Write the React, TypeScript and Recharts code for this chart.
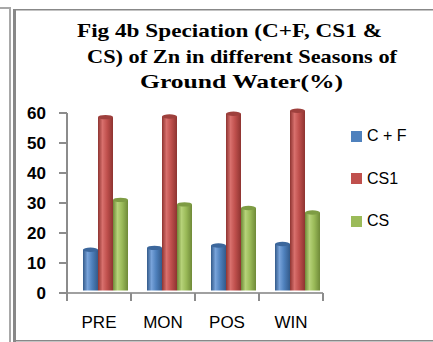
import React from 'react';
import { BarChart, Bar, XAxis, YAxis, Legend } from 'recharts';

// Zn speciation (%) per season
const seasons = ['PRE', 'MON', 'POS', 'WIN'];
const cfValues = [13.6, 14.2, 15.0, 15.5];
const cs1Values = [57.8, 58.0, 58.9, 59.9];
const csValues = [30.2, 28.7, 27.5, 26.0];
const yTicks = [0, 10, 20, 30, 40, 50, 60];
const titleLines = [
  'Fig 4b Speciation (C+F,  CS1 &',
  'CS) of Zn in different Seasons of',
  'Ground Water(%)',
];

const series = [
  { key: 'cf', name: 'C + F', color: '#4F81BD', light: '#78A3DA', dark: '#335A8A', cap: '#3C679C' },
  { key: 'cs1', name: 'CS1', color: '#C0504D', light: '#D8706D', dark: '#8E3431', cap: '#9E403D' },
  { key: 'cs', name: 'CS', color: '#9BBB59', light: '#B6D279', dark: '#6F8A38', cap: '#7E9C44' },
];

const data = seasons.map((season, i) => ({
  season,
  cf: cfValues[i],
  cs1: cs1Values[i],
  cs: csValues[i],
}));

// bars sit a little back and to the right, like a 3-D column chart
const DEPTH_DX = 6;
const DEPTH_DY = -2.5;

const Cylinder = (props: any) => {
  const { x, y, width, height, sKey } = props;
  const s = series.find((d) => d.key === sKey)!;
  if (!width || height == null) return null;
  const left = x + DEPTH_DX;
  const top = y + DEPTH_DY;
  const rx = width / 2;
  const ry = 2.2;
  return (
    <g>
      <rect x={left} y={top} width={width} height={height} fill={`url(#grad-${s.key})`} />
      <ellipse cx={left + rx} cy={top} rx={rx} ry={ry} fill={s.cap} />
    </g>
  );
};

const SeasonTick = (props: any) => {
  const { x, y, payload, index } = props;
  const half = payload && payload.offset ? payload.offset : 32;
  return (
    <g>
      {index === 0 && (
        <line x1={x - half} x2={x - half} y1={y} y2={y + 8} stroke="#8c8c8c" strokeWidth={2} />
      )}
      <line x1={x + half} x2={x + half} y1={y} y2={y + 8} stroke="#8c8c8c" strokeWidth={2} />
      <text
        x={x}
        y={y + 35}
        textAnchor="middle"
        fontFamily="'Liberation Sans', Arial, sans-serif"
        fontSize={17}
        fill="#000"
      >
        {payload.value}
      </text>
    </g>
  );
};

const LegendBox = () => (
  <div style={{ position: 'relative', width: 80, height: 120 }}>
    {series.map((s, i) => (
      <div
        key={s.key}
        style={{
          position: 'absolute',
          left: 0,
          top: 6 + i * 42.5,
          display: 'flex',
          alignItems: 'center',
          height: 16,
          fontFamily: "'Liberation Sans', Arial, sans-serif",
          fontSize: 16,
          color: '#000',
          whiteSpace: 'nowrap',
        }}
      >
        <span style={{ display: 'inline-block', width: 11, height: 11, background: s.color, marginRight: 5 }} />
        <span>{s.name}</span>
      </div>
    ))}
  </div>
);

const titleRows = [
  { x: 77, y: 37, w: 305 },
  { x: 87, y: 62.5, w: 310 },
  { x: 140, y: 87.5, w: 203 },
];

export default function App() {
  return (
    <div style={{ position: 'absolute', left: 0, top: 0, width: 433, height: 342, background: '#fff' }}>
      <BarChart
        width={433}
        height={342}
        data={data}
        margin={{ top: 113, right: 110, bottom: 0, left: 0 }}
        barCategoryGap={10}
        barGap={0}
      >
        <defs>
          {series.map((s) => (
            <linearGradient key={s.key} id={`grad-${s.key}`} x1="0" y1="0" x2="1" y2="0">
              <stop offset="0%" stopColor={s.dark} />
              <stop offset="30%" stopColor={s.light} />
              <stop offset="60%" stopColor={s.color} />
              <stop offset="100%" stopColor={s.dark} />
            </linearGradient>
          ))}
        </defs>
        <XAxis
          dataKey="season"
          height={49}
          tickSize={0}
          tickMargin={0}
          tickLine={false}
          axisLine={{ stroke: '#a0a0a0', strokeWidth: 2 }}
          tick={<SeasonTick />}
          interval={0}
        />
        <YAxis
          width={67}
          domain={[0, 60]}
          ticks={yTicks}
          tickSize={8}
          tickMargin={13}
          axisLine={{ stroke: '#8c8c8c', strokeWidth: 2 }}
          tickLine={{ stroke: '#8c8c8c', strokeWidth: 2 }}
          tick={{ fontFamily: "'Liberation Sans', Arial, sans-serif", fontSize: 17, fontWeight: 'bold', fill: '#000' }}
        />
        <Legend
          layout="vertical"
          align="center"
          verticalAlign="middle"
          wrapperStyle={{ top: 122, left: 351, width: 80 }}
          content={<LegendBox />}
        />
        {series.map((s) => (
          <Bar
            key={s.key}
            dataKey={s.key}
            name={s.name}
            fill={s.color}
            isAnimationActive={false}
            shape={(p: any) => <Cylinder {...p} sKey={s.key} />}
          />
        ))}
      </BarChart>
      <svg
        width={433}
        height={342}
        style={{ position: 'absolute', left: 0, top: 0, pointerEvents: 'none' }}
      >
        {/* frame */}
        <rect x={0} y={7} width={10} height={2} fill="#a8a8a8" />
        <rect x={9} y={7} width={2} height={335} fill="#a8a8a8" />
        <rect x={13} y={9} width={3} height={333} fill="#888" />
        <rect x={13} y={9} width={420} height={1.5} fill="#888" />
        <rect x={14} y={340} width={419} height={1.5} fill="#888" />
        {titleLines.map((line, i) => (
          <text
            key={i}
            x={titleRows[i].x}
            y={titleRows[i].y}
            textLength={titleRows[i].w}
            lengthAdjust="spacingAndGlyphs"
            fontFamily="'Liberation Serif', 'Times New Roman', serif"
            fontWeight="bold"
            fontSize={19}
            fill="#000"
          >
            {line}
          </text>
        ))}
      </svg>
    </div>
  );
}
